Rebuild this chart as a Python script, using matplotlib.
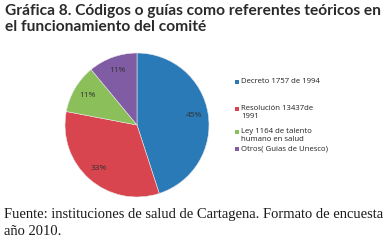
import matplotlib
matplotlib.use("Agg")
import matplotlib.pyplot as plt
from matplotlib.patches import Rectangle

categories = ["Decreto 1757 de 1994", "Resolución 13437de\n1991",
              "Ley 1164 de talento\nhumano en salud", "Otros( Guias de Unesco)"]
values = [45, 33, 11, 11]
colors = ["#2a7ab8", "#d9454f", "#8bbf5a", "#7f5ca3"]

title = "Gráfica 8. Códigos o guías como referentes teóricos en\nel funcionamiento del comité"
footer = "Fuente: instituciones de salud de Cartagena. Formato de encuesta\naño 2010."

W, H = 385, 249
fig = plt.figure(figsize=(W / 100, H / 100), dpi=100)
fig.patch.set_facecolor("white")

# pie axes: center (137,125) px, radius 72 px
cx, cy, r = 137, 125, 72
ax = fig.add_axes([(cx - r) / W, 1 - (cy + r) / H, 2 * r / W, 2 * r / H])
wedges, texts, autotexts = ax.pie(
    values, colors=colors, startangle=90, counterclock=False,
    autopct=lambda p: f"{p:.0f}%", pctdistance=0.8,
    wedgeprops=dict(linewidth=0.4, edgecolor="#e8e8e8"),
    textprops=dict(fontsize=6, color="#333333", family="Open Sans"))
ax.set_aspect("auto")
ax.set_xlim(-1, 1)
ax.set_ylim(-1, 1)
ax.axis("off")

# legend
leg_y = [82, 109, 132, 149]
for lab, col, y in zip(categories, colors, leg_y):
    fig.patches.append(Rectangle(((235) / W, 1 - (y + 2.2) / H), 4.5 / W, 4.5 / H,
                                 transform=fig.transFigure, facecolor=col,
                                 edgecolor="none"))
    fig.text(241 / W, 1 - (y - 4) / H, lab, fontsize=5.6, family="Open Sans",
             color="#222222", va="top", ha="left", linespacing=1.15)

fig.text(5 / W, 1 - 4 / H, title, fontsize=11.2, fontweight="bold",
         family="Lato", color="#2a2a2a", va="top", ha="left",
         linespacing=1.2)
fig.text(4 / W, 1 - 208 / H, footer, fontsize=10.5, family="Liberation Serif",
         color="#1a1a1a", va="top", ha="left", linespacing=1.4)

fig.savefig("out.png", dpi=100)
